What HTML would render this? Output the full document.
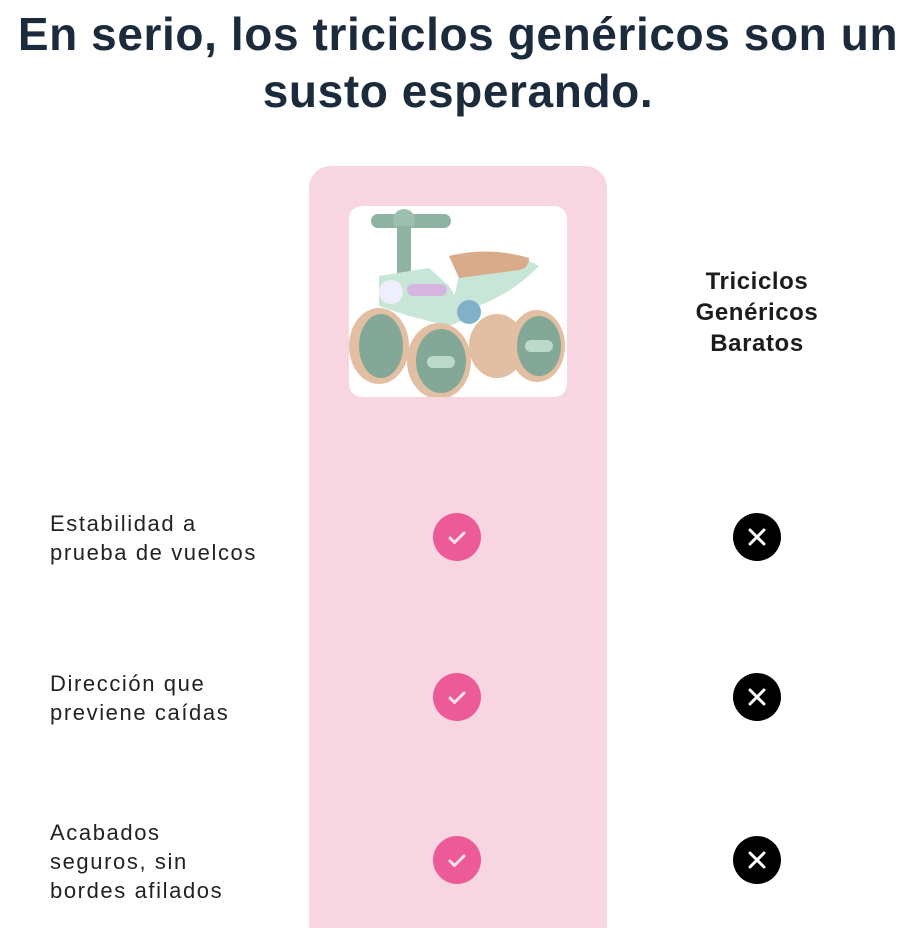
<!DOCTYPE html>
<html style="width:916px;height:928px;overflow:hidden"><head><meta charset="utf-8"><style>
body{margin:0;width:916px;height:928px;background:#fff;position:relative;overflow:hidden;font-family:"Liberation Sans",sans-serif}
h1{position:absolute;left:0;top:6px;width:916px;margin:0;text-align:center;font-size:46px;line-height:57px;font-weight:bold;color:#1c2b3c;letter-spacing:0.6px;white-space:nowrap}
.col{position:absolute;left:309px;top:166px;width:298px;height:762px;background:#f7d6e2;border-radius:22px 22px 0 0}
.img{position:absolute;left:349px;top:206px;width:218px;height:191px;background:#fff;border-radius:13px;overflow:hidden}
.hd{position:absolute;left:657px;top:266px;width:200px;text-align:center;font-size:24px;line-height:31px;font-weight:bold;color:#1c1c1c;letter-spacing:0.6px}
.lbl{position:absolute;left:50px;font-size:22px;line-height:29px;color:#222;letter-spacing:1.6px;white-space:nowrap}
.ck,.x{position:absolute;width:48px;height:48px;border-radius:50%}
.ck{left:433px;background:#ec5b97}
.x{left:733px;background:#000}
svg.i{position:absolute;left:0;top:0}
</style></head><body>
<h1>En serio, los triciclos genéricos son un<br>susto esperando.</h1>
<div class="col"></div>
<div class="img"><svg width="218" height="191" viewBox="0 0 218 191">
<rect x="22" y="8" width="80" height="14" rx="7" fill="#8fb3a2"/>
<circle cx="55" cy="14" r="11" fill="#9cbfae"/>
<rect x="48" y="20" width="14" height="50" fill="#8fb3a2"/>
<path d="M100 112 C120 100 150 100 190 60 L180 55 L110 70 Z" fill="#c8e6d8"/>
<path d="M30 70 L80 62 L100 80 L120 112 L100 120 L60 110 L30 100 Z" fill="#c8e6d8"/>
<path d="M100 50 Q140 40 180 52 Q180 62 170 64 L110 72 Z" fill="#d9ab8a"/>
<circle cx="42" cy="86" r="12" fill="#eef"/>
<rect x="58" y="78" width="40" height="12" rx="6" fill="#d5b5e0"/>
<circle cx="120" cy="106" r="12" fill="#7fb2c8"/>
<ellipse cx="30" cy="140" rx="30" ry="38" fill="#e2bfa2"/><ellipse cx="32" cy="140" rx="22" ry="32" fill="#84a897"/>
<ellipse cx="148" cy="140" rx="28" ry="32" fill="#e2bfa2"/>
<ellipse cx="90" cy="155" rx="32" ry="38" fill="#e2bfa2"/><ellipse cx="92" cy="155" rx="25" ry="32" fill="#84a897"/>
<rect x="78" y="150" width="28" height="12" rx="6" fill="#bcd9c9"/>
<ellipse cx="188" cy="140" rx="28" ry="36" fill="#e2bfa2"/><ellipse cx="190" cy="140" rx="22" ry="30" fill="#84a897"/>
<rect x="176" y="134" width="28" height="12" rx="6" fill="#bcd9c9"/>
</svg></div>
<div class="hd">Triciclos<br>Genéricos<br>Baratos</div>
<div class="lbl" style="top:509px">Estabilidad a<br>prueba de vuelcos</div>
<div class="lbl" style="top:669px">Dirección que<br>previene caídas</div>
<div class="lbl" style="top:818px">Acabados<br>seguros, sin<br>bordes afilados</div>
<div class="ck" style="top:513px"><svg class="i" width="48" height="48"><path d="M17 25 L21.5 29.5 L31 20" stroke="#fbe3ec" stroke-width="3" fill="none" stroke-linecap="round" stroke-linejoin="round"/></svg></div>
<div class="ck" style="top:673px"><svg class="i" width="48" height="48"><path d="M17 25 L21.5 29.5 L31 20" stroke="#fbe3ec" stroke-width="3" fill="none" stroke-linecap="round" stroke-linejoin="round"/></svg></div>
<div class="ck" style="top:836px"><svg class="i" width="48" height="48"><path d="M17 25 L21.5 29.5 L31 20" stroke="#fbe3ec" stroke-width="3" fill="none" stroke-linecap="round" stroke-linejoin="round"/></svg></div>
<div class="x" style="top:513px"><svg class="i" width="48" height="48"><path d="M17 17 L31 31 M31 17 L17 31" stroke="#fff" stroke-width="3" stroke-linecap="round"/></svg></div>
<div class="x" style="top:673px"><svg class="i" width="48" height="48"><path d="M17 17 L31 31 M31 17 L17 31" stroke="#fff" stroke-width="3" stroke-linecap="round"/></svg></div>
<div class="x" style="top:836px"><svg class="i" width="48" height="48"><path d="M17 17 L31 31 M31 17 L17 31" stroke="#fff" stroke-width="3" stroke-linecap="round"/></svg></div>
</body></html>
